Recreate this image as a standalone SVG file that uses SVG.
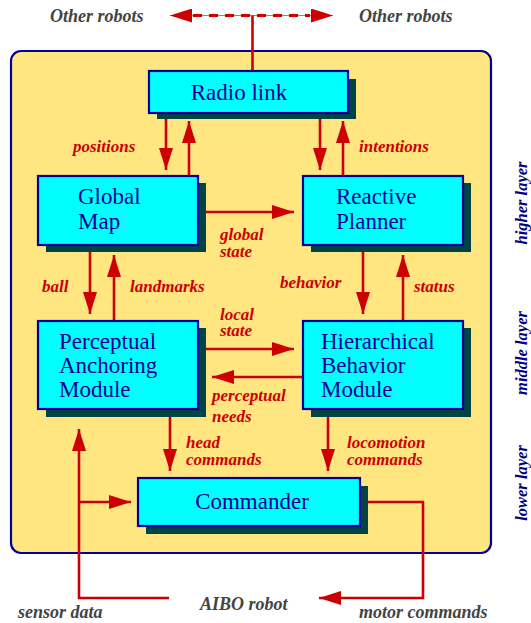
<svg xmlns="http://www.w3.org/2000/svg" width="531" height="623" viewBox="0 0 531 623" font-family="Liberation Serif, serif">
<style>
.box{fill:#00ffff;stroke:#000099;stroke-width:2.2}
.sh{fill:#004444}
.nt{font-size:23px;fill:#000099}
.lb{font-size:17px;font-weight:bold;font-style:italic;fill:#cc0000}
.gl{font-size:18px;font-weight:bold;font-style:italic;fill:#444444}
.ly{font-size:16.5px;font-weight:bold;font-style:italic;fill:#000080}
.ln{fill:none;stroke:#cc0000;stroke-width:2.6}
</style>
<defs>
<marker id="ah" markerUnits="userSpaceOnUse" markerWidth="24" markerHeight="14" viewBox="0 0 22 14" refX="22" refY="7" orient="auto">
<path d="M0,0 L22,7 L0,14 z" fill="#cc0000"/>
</marker>
</defs>
<rect x="11" y="51" width="480" height="502" rx="10" fill="#ffe680" stroke="#000099" stroke-width="2.2"/>
<g id="connectors">
<line x1="170" y1="15.5" x2="333" y2="15.5" stroke="#888" stroke-width="1"/>
<line x1="193" y1="15.5" x2="310" y2="15.5" stroke="#cc0000" stroke-width="3" stroke-dasharray="9,7"/>
<line x1="252" y1="15.5" x2="170" y2="15.5" class="ln" stroke-opacity="0" marker-end="url(#ah)"/>
<line x1="252" y1="15.5" x2="333" y2="15.5" class="ln" stroke-opacity="0" marker-end="url(#ah)"/>
<line x1="252.5" y1="15.5" x2="252.5" y2="71" class="ln"/>
<line x1="166" y1="113" x2="166" y2="170" class="ln" marker-end="url(#ah)"/>
<line x1="189" y1="176" x2="189" y2="121" class="ln" marker-end="url(#ah)"/>
<line x1="320" y1="113" x2="320" y2="170" class="ln" marker-end="url(#ah)"/>
<line x1="343" y1="176" x2="343" y2="121" class="ln" marker-end="url(#ah)"/>
<line x1="198" y1="212" x2="294" y2="212" class="ln" marker-end="url(#ah)"/>
<line x1="90" y1="245" x2="90" y2="314" class="ln" marker-end="url(#ah)"/>
<line x1="114" y1="321" x2="114" y2="255" class="ln" marker-end="url(#ah)"/>
<line x1="363" y1="245" x2="363" y2="314" class="ln" marker-end="url(#ah)"/>
<line x1="403" y1="321" x2="403" y2="255" class="ln" marker-end="url(#ah)"/>
<line x1="198" y1="349" x2="294" y2="349" class="ln" marker-end="url(#ah)"/>
<line x1="303" y1="377" x2="212" y2="377" class="ln" marker-end="url(#ah)"/>
<line x1="170" y1="409" x2="170" y2="471" class="ln" marker-end="url(#ah)"/>
<line x1="328" y1="409" x2="328" y2="471" class="ln" marker-end="url(#ah)"/>
<path d="M169,598 L79,598 L79,429" class="ln" marker-end="url(#ah)"/>
<line x1="79" y1="502" x2="131" y2="502" class="ln" marker-end="url(#ah)"/>
<path d="M360,502 L423,502 L423,598 L319,598" class="ln" marker-end="url(#ah)"/>
</g>
<g id="radio-link">
<rect x="157" y="79" width="199" height="40" class="sh"/>
<rect x="149" y="71" width="199" height="42" class="box"/>
<text x="239" y="100" class="nt" text-anchor="middle">Radio link</text>
</g>
<g id="global-map">
<rect x="46" y="183" width="160" height="69" class="sh"/>
<rect x="38" y="176" width="160" height="69" class="box"/>
<text x="78" y="204" class="nt">Global</text>
<text x="78" y="229" class="nt">Map</text>
</g>
<g id="reactive-planner">
<rect x="311" y="183" width="160" height="69" class="sh"/>
<rect x="303" y="176" width="160" height="69" class="box"/>
<text x="336" y="204" class="nt">Reactive</text>
<text x="336" y="229" class="nt">Planner</text>
</g>
<g id="perceptual-anchoring-module">
<rect x="46" y="328" width="160" height="89" class="sh"/>
<rect x="38" y="321" width="160" height="88" class="box"/>
<text x="59" y="349" class="nt">Perceptual</text>
<text x="59" y="373" class="nt">Anchoring</text>
<text x="59" y="397" class="nt">Module</text>
</g>
<g id="hierarchical-behavior-module">
<rect x="311" y="328" width="160" height="89" class="sh"/>
<rect x="303" y="321" width="160" height="88" class="box"/>
<text x="321" y="349" class="nt">Hierarchical</text>
<text x="321" y="373" class="nt">Behavior</text>
<text x="321" y="397" class="nt">Module</text>
</g>
<g id="commander">
<rect x="146" y="486" width="222" height="48" class="sh"/>
<rect x="138" y="478" width="222" height="48" class="box"/>
<text x="252" y="509" class="nt" text-anchor="middle">Commander</text>
</g>
<g id="labels">
<text x="50" y="22" class="gl">Other robots</text>
<text x="359" y="22" class="gl">Other robots</text>
<text x="73" y="152" class="lb">positions</text>
<text x="359" y="152" class="lb">intentions</text>
<text x="220" y="240" class="lb">global</text>
<text x="220" y="257" class="lb">state</text>
<text x="42" y="292" class="lb">ball</text>
<text x="130" y="292" class="lb">landmarks</text>
<text x="280" y="288" class="lb">behavior</text>
<text x="414" y="292" class="lb">status</text>
<text x="220" y="320" class="lb">local</text>
<text x="220" y="336" class="lb">state</text>
<text x="212" y="401" class="lb">perceptual</text>
<text x="212" y="422" class="lb">needs</text>
<text x="186" y="448" class="lb">head</text>
<text x="186" y="465" class="lb">commands</text>
<text x="347" y="448" class="lb">locomotion</text>
<text x="347" y="465" class="lb">commands</text>
<text x="18" y="618" class="gl">sensor data</text>
<text x="200" y="610" class="gl">AIBO robot</text>
<text x="359" y="618" class="gl">motor commands</text>
<text transform="translate(527,203) rotate(-90)" class="ly" text-anchor="middle">higher layer</text>
<text transform="translate(527,353) rotate(-90)" class="ly" text-anchor="middle">middle layer</text>
<text transform="translate(527,483) rotate(-90)" class="ly" text-anchor="middle">lower layer</text>
</g>
</svg>
